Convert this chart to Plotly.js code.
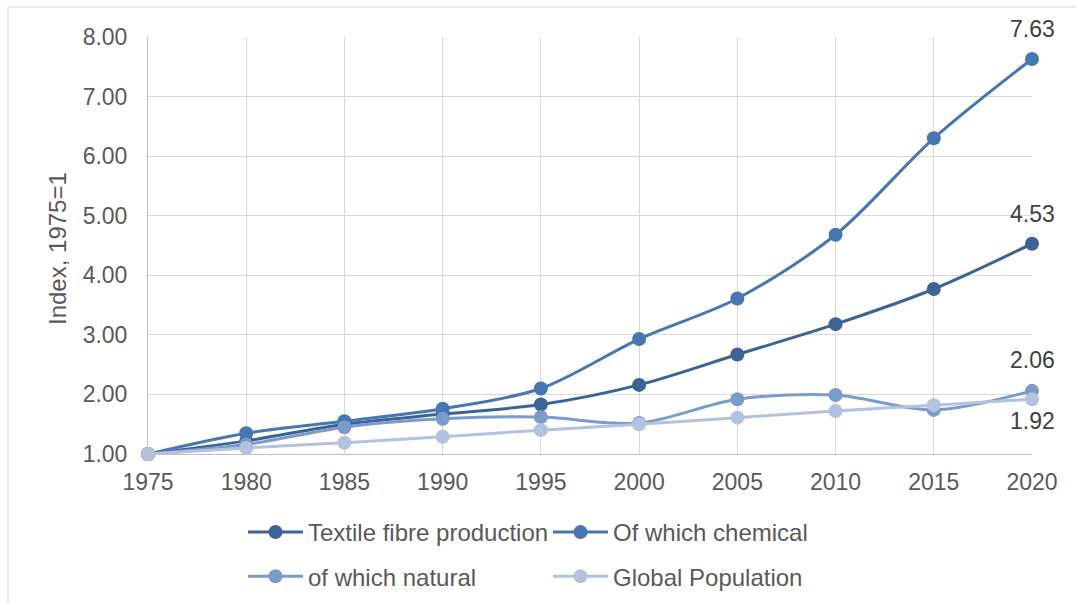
<!DOCTYPE html>
<html>
<head>
<meta charset="utf-8">
<script src="https://cdn.plot.ly/plotly-3.0.1.min.js"></script>
<style>
  html, body { margin: 0; padding: 0; background: #ffffff; }
  #chart { width: 1076px; height: 603px; }
</style>
</head>
<body>
<div id="chart"></div>
<script>
// Index values, 1975 = 1
const years = [1975, 1980, 1985, 1990, 1995, 2000, 2005, 2010, 2015, 2020];
const textileFibre = [1.00, 1.22, 1.50, 1.67, 1.83, 2.16, 2.67, 3.18, 3.77, 4.53];
const chemical     = [1.00, 1.35, 1.55, 1.76, 2.10, 2.93, 3.61, 4.68, 6.30, 7.63];
const natural      = [1.00, 1.16, 1.45, 1.59, 1.62, 1.52, 1.92, 1.99, 1.74, 2.06];
const population   = [1.00, 1.10, 1.19, 1.29, 1.40, 1.50, 1.61, 1.72, 1.82, 1.92];

const seriesNames = ["Textile fibre production", "Of which chemical", "of which natural", "Global Population"];
const seriesData = [textileFibre, chemical, natural, population];
const seriesColors = ["#3b6495", "#4677b3", "#7b9bca", "#b3c3df"];
const seriesLegend = ["legend", "legend2", "legend", "legend2"];

const W = 1076, H = 603;
const M = { l: 148, r: 44, t: 37, b: 149, autoexpand: false };
const plotW = W - M.l - M.r, plotH = H - M.t - M.b;

const textColor = "#595959";
const font = "Liberation Sans, Arial, sans-serif";

const traces = seriesData.map((vals, i) => ({
  x: years,
  y: vals,
  name: seriesNames[i],
  type: "scatter",
  mode: "lines+markers",
  line: { color: seriesColors[i], width: 3, shape: "spline", smoothing: 0.9 },
  marker: { color: seriesColors[i], size: 14 },
  cliponaxis: false,
  legend: seriesLegend[i],
  legendgroup: "g" + i,
  hoverinfo: "x+y+name"
}));

// End-of-line value labels
const last = years.length - 1;
const labelShift = [30, 30, 31, -22];
const annotations = seriesData.map((vals, i) => ({
  x: years[last],
  y: vals[last],
  xref: "x", yref: "y",
  text: vals[last].toFixed(2),
  showarrow: false,
  xshift: 0,
  yshift: labelShift[i],
  font: { family: font, size: 23, color: "#404040" }
}));

// Y-axis title
annotations.push({
  text: "Index, 1975=1",
  xref: "paper", yref: "paper",
  x: (58 - M.l) / plotW, y: 1 - (249 - M.t) / plotH,
  xanchor: "center", yanchor: "middle",
  textangle: -90,
  showarrow: false,
  font: { family: font, size: 24, color: textColor }
});

const legendCommon = {
  orientation: "v",
  xref: "container", yref: "container",
  xanchor: "left", yanchor: "top",
  font: { family: font, size: 24, color: textColor },
  bgcolor: "rgba(0,0,0,0)",
  itemwidth: 55,
  traceorder: "grouped",
  tracegroupgap: 10,
  itemclick: false, itemdoubleclick: false
};

const layout = {
  width: W, height: H,
  margin: M,
  paper_bgcolor: "#ffffff",
  plot_bgcolor: "#ffffff",
  font: { family: font, size: 23, color: textColor },
  showlegend: true,
  xaxis: {
    range: [1975, 2020],
    tickvals: years,
    ticktext: years.map(String),
    tickangle: 0,
    showgrid: true, gridcolor: "#d9d9d9", gridwidth: 1,
    zeroline: false,
    showline: true, linecolor: "#bfbfbf", linewidth: 1,
    ticks: "", ticklen: 0,
    tickfont: { family: font, size: 23, color: textColor },
    ticklabelstandoff: 7,
    fixedrange: true
  },
  yaxis: {
    range: [1, 8],
    dtick: 1,
    tickformat: ".2f",
    showgrid: true, gridcolor: "#d9d9d9", gridwidth: 1,
    zeroline: false,
    showline: true, linecolor: "#bfbfbf", linewidth: 1,
    ticks: "",
    tickfont: { family: font, size: 23, color: textColor },
    ticklabelstandoff: 15,
    fixedrange: true
  },
  legend: Object.assign({}, legendCommon, { x: 243 / W, y: 1 - 510 / H }),
  legend2: Object.assign({}, legendCommon, { x: 548 / W, y: 1 - 510 / H }),
  annotations: annotations,
  shapes: [
    // light frame around the chart area (left and top edges visible)
    {
      type: "rect", xref: "paper", yref: "paper", layer: "below",
      x0: (8 - M.l) / plotW, x1: (W + 4 - M.l) / plotW,
      y0: -(H + 4 - M.t - plotH) / plotH, y1: 1 + (M.t - 7) / plotH,
      line: { color: "#d9d9d9", width: 1 }
    }
  ]
};

Plotly.newPlot("chart", traces, layout, { displayModeBar: false, staticPlot: true });
</script>
</body>
</html>
